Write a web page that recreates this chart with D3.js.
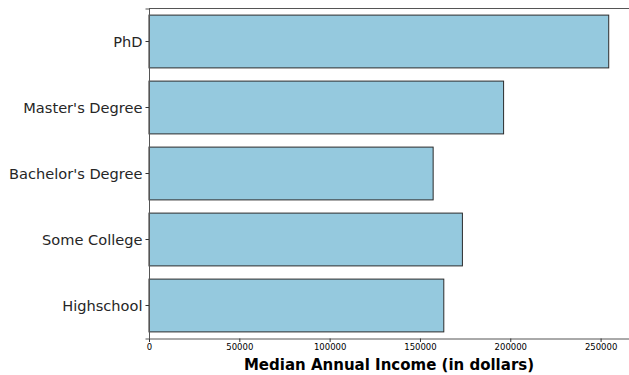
<!DOCTYPE html>
<html lang="en">
<head>
<meta charset="utf-8">
<script src="https://d3js.org/d3.v7.min.js"></script>
<style>
  body { margin: 0; background: #fff; }
  svg { display: block; font-family: "DejaVu Sans", sans-serif; }
</style>
</head>
<body>
<svg width="629" height="375"></svg>
<script>
// data
var levels = ["PhD", "Master's Degree", "Bachelor's Degree", "Some College", "Highschool"];
var income = [254500, 196300, 157300, 173500, 163200];
var xTicks = [0, 50000, 100000, 150000, 200000, 250000];

var svg = d3.select('svg');
var plotLeft = 149, plotTop = 8.5, plotRight = 629.5, plotBottom = 338.5;

var xScale = d3.scaleLinear().domain([0, 266000]).range([plotLeft, plotRight]);
var yScale = d3.scaleBand().domain(levels).range([plotTop, plotBottom]).paddingInner(0.2).paddingOuter(0.1);

// bars
svg.append('g')
  .selectAll('rect')
  .data(levels)
  .enter()
  .append('rect')
  .attr('x', xScale(0))
  .attr('y', function(d) { return yScale(d); })
  .attr('width', function(d, i) { return xScale(income[i]) - xScale(0); })
  .attr('height', yScale.bandwidth())
  .style('fill', '#95c9de')
  .style('stroke', '#2b2b2b')
  .style('stroke-width', 1);

// top spine
svg.append('line')
  .attr('x1', plotLeft).attr('x2', plotRight).attr('y1', plotTop).attr('y2', plotTop)
  .style('stroke', '#555').style('stroke-width', 1);

// x axis
var xAxis = svg.append('g')
  .attr('transform', 'translate(0,' + plotBottom + ')')
  .call(d3.axisBottom(xScale).tickValues(xTicks).tickFormat(d3.format('d')).tickSize(3.5).tickPadding(2))
  .attr('font-family', '"DejaVu Sans", sans-serif');
xAxis.selectAll('text').style('font-size', '8.5px').style('fill', '#000');
xAxis.selectAll('line').style('stroke', '#333');
xAxis.select('.domain').style('stroke', '#555');

// y axis
var yAxis = svg.append('g')
  .attr('transform', 'translate(' + plotLeft + ',0)')
  .call(d3.axisLeft(yScale).tickSize(3.5).tickPadding(3))
  .attr('font-family', '"DejaVu Sans", sans-serif');
yAxis.selectAll('text').style('font-size', '14.6px').style('fill', '#262626').attr('dy', '0.4em');
yAxis.selectAll('line').style('stroke', '#333');
yAxis.select('.domain').style('stroke', '#555');

// axis title
svg.append('text')
  .attr('x', (plotLeft + 629) / 2)
  .attr('y', 370)
  .style('text-anchor', 'middle')
  .style('font-size', '15px')
  .style('font-weight', 'bold')
  .text('Median Annual Income (in dollars)');
</script>
</body>
</html>
